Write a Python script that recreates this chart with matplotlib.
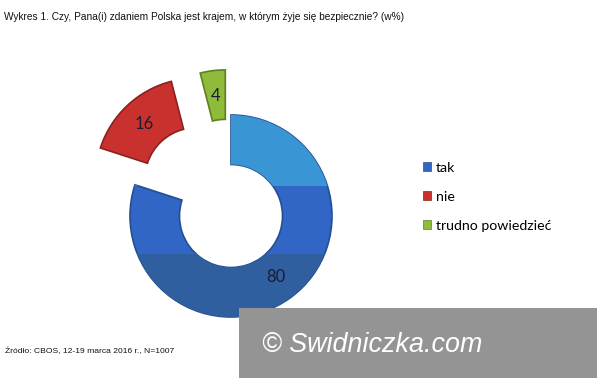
import matplotlib
matplotlib.use("Agg")
import matplotlib.pyplot as plt
from matplotlib.patches import Rectangle

# data
labels = ['tak', 'nie', 'trudno powiedzieć']
values = [80, 16, 4]
colors = ['#3266c6', '#c9312f', '#8fbb3b']
edges = ['#244f8f', '#8c2020', '#5f7f22']

title = 'Wykres 1. Czy, Pana(i) zdaniem Polska jest krajem, w którym żyje się bezpiecznie? (w%)'
source = 'Źródło: CBOS, 12-19 marca 2016 r., N=1007'
mark = '© Swidniczka.com'

W, H = 597, 378
fig = plt.figure(figsize=(W / 100, H / 100), dpi=100)
fig.patch.set_facecolor('white')
ax = fig.add_axes([0, 0, 1, 1])

cx, cy, R = 231, H - 216, 101
# pie's explode is an absolute offset, so scale it by the radius
wedges, texts, autotexts = ax.pie(
    values, colors=colors, startangle=90, counterclock=False,
    explode=[0, 0.5 * R, 0.45 * R], radius=R, center=(cx, cy),
    autopct=lambda p: f'{p:.0f}', pctdistance=0.75,
    wedgeprops=dict(width=R * 0.49, linewidth=1.2),
    textprops=dict(family='Lato', fontsize=12, color='#1c1c30'))
for w, e in zip(wedges, edges):
    w.set_edgecolor(e)

# shading bands on the big blue ring
top = Rectangle((cx - R - 5, cy + 0.3 * R), 2 * R + 10, R, color='#3a95d4',
                zorder=wedges[0].get_zorder() + 0.1, lw=0)
top.set_clip_path(wedges[0])
ax.add_patch(top)
bot = Rectangle((cx - R - 5, cy - R - 5), 2 * R + 10, 0.62 * R + 5, color='#2f5f9f',
                zorder=wedges[0].get_zorder() + 0.1, lw=0)
bot.set_clip_path(wedges[0])
ax.add_patch(bot)
for t in autotexts:
    t.set_zorder(5)

ax.set_xlim(0, W)
ax.set_ylim(0, H)
ax.set_aspect('auto')
ax.axis('off')

leg = ax.legend(wedges, labels, loc='upper left', bbox_to_anchor=(410 / W, 1 - 149 / H),
                frameon=False, handlelength=0.6, handleheight=0.6, handletextpad=0.3,
                labelspacing=1.2, prop=dict(family='Lato', size=10.2))
for h in leg.legend_handles:
    h.set_linewidth(0.5)

fig.text(4 / W, 1 - 17 / H, title, family='Liberation Sans', fontsize=7.3,
         va='center', ha='left', color='#111111')
fig.text(5 / W, 1 - 351 / H, source, family='Liberation Sans', fontsize=6.1,
         va='center', ha='left', color='#111111')

ax.add_patch(Rectangle((239, 0), W - 239, H - 308, color='#949494', lw=0, zorder=6))
ax.text(372, H - 345, mark, family='Liberation Sans', style='italic', fontsize=19.4,
        color='white', ha='center', va='center', zorder=7)

fig.savefig('out.png', dpi=100, facecolor='white')
